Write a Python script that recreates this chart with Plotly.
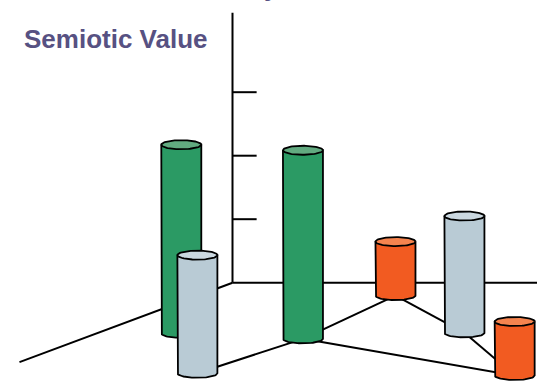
import numpy as np
import plotly.graph_objects as go

# --- data -------------------------------------------------------------
# Each cylinder stands on the floor: position along the back wall,
# depth toward the viewer, and its height on the value axis.
along = [1.33, 3.27, 3.48, 3.11, 5.77, 8.36]
depth = [2.28, 4.08, 2.53, 0.58, 2.26, 4.18]
values = [2.97, 1.86, 2.97, 0.85, 1.84, 0.85]
series = ["green", "blue", "green", "orange", "blue", "orange"]

# floor links between cylinder bases (index pairs)
links = [(1, 2), (2, 3), (3, 4), (4, 5), (2, 5)]

value_ticks = [1, 2, 3]
value_axis_top = 4.25
along_axis_end = 5.0
depth_axis_end = 3.58

title_text = "Semiotic Value"

# --- styling ----------------------------------------------------------
W, H = 537, 382
SCALE = 63.5                 # pixels per unit
ORIGIN = (232.5, 282.7)      # pixel position of the floor corner
DX, DY = -0.937, -0.3495     # screen direction of one depth unit
RX, RY = 0.315, 0.071        # cylinder radius and ellipse half-height
TICK_LEN = 0.38

body_color = {"green": "#2B9A64", "blue": "#B9CBD5", "orange": "#F25B21"}
top_color = {"green": "#62AA80", "blue": "#CBD8E0", "orange": "#F5844F"}
title_color = "#575182"


def project(a, b, v):
    """Oblique projection of (along, depth, value) onto the page plane."""
    return a + DX * b, v + DY * b


fig = go.Figure()


def add_line(xs, ys, width=2):
    fig.add_trace(go.Scatter(x=xs, y=ys, mode="lines",
                             line=dict(color="black", width=width),
                             hoverinfo="skip", showlegend=False))


# axes: value axis, back wall floor line, depth line
x0, y0 = project(0, 0, 0)
xt, yt = project(0, 0, value_axis_top)
add_line([x0, xt], [y0, yt])
xa, ya = project(along_axis_end, 0, 0)
add_line([x0, xa], [y0, ya])
xd, yd = project(0, depth_axis_end, 0)
add_line([x0, xd], [y0, yd])
for v in value_ticks:
    xs, ys = project(0, 0, v)
    xe, ye = project(TICK_LEN, 0, v)
    add_line([xs, xe], [ys, ye])

# floor links between cylinder bases
for i, j in links:
    xi, yi = project(along[i], depth[i], 0)
    xj, yj = project(along[j], depth[j], 0)
    add_line([xi, xj], [yi, yj])

# cylinders, back to front
order = np.argsort(depth)
theta_bottom = np.linspace(np.pi, 2 * np.pi, 40)
theta_full = np.linspace(0, 2 * np.pi, 80)
for k in order:
    cx, cy = project(along[k], depth[k], 0)
    top = cy + values[k]
    bx = np.concatenate([[cx - RX], cx + RX * np.cos(theta_bottom), [cx + RX, cx - RX]])
    by = np.concatenate([[top], cy + RY * np.sin(theta_bottom), [top, top]])
    fig.add_trace(go.Scatter(x=bx, y=by, mode="lines", fill="toself",
                             fillcolor=body_color[series[k]],
                             line=dict(color="black", width=1.8),
                             hoverinfo="skip", showlegend=False))
    ex = cx + RX * np.cos(theta_full)
    ey = top + RY * np.sin(theta_full)
    fig.add_trace(go.Scatter(x=ex, y=ey, mode="lines", fill="toself",
                             fillcolor=top_color[series[k]],
                             line=dict(color="black", width=1.8),
                             hoverinfo="skip", showlegend=False))

fig.add_annotation(text="<b>" + title_text + "</b>", xref="paper", yref="paper",
                   x=22 / W, y=1 - 39.5 / H, xanchor="left", yanchor="middle",
                   showarrow=False,
                   font=dict(family="Liberation Sans, Arial, sans-serif",
                             size=26, color=title_color))
fig.add_annotation(text="<b>y</b>", xref="paper", yref="paper",
                   x=262 / W, y=1 + 13 / H, xanchor="left", yanchor="middle",
                   showarrow=False,
                   font=dict(family="Liberation Sans, Arial, sans-serif",
                             size=26, color=title_color))

x_range = [-ORIGIN[0] / SCALE, (W - ORIGIN[0]) / SCALE]
y_range = [-(H - ORIGIN[1]) / SCALE, ORIGIN[1] / SCALE]
fig.update_layout(
    width=W, height=H,
    margin=dict(l=0, r=0, t=0, b=0),
    paper_bgcolor="white", plot_bgcolor="white",
    xaxis=dict(range=x_range, visible=False, fixedrange=True),
    yaxis=dict(range=y_range, visible=False, fixedrange=True),
    showlegend=False,
)

fig.write_html("out.html")
